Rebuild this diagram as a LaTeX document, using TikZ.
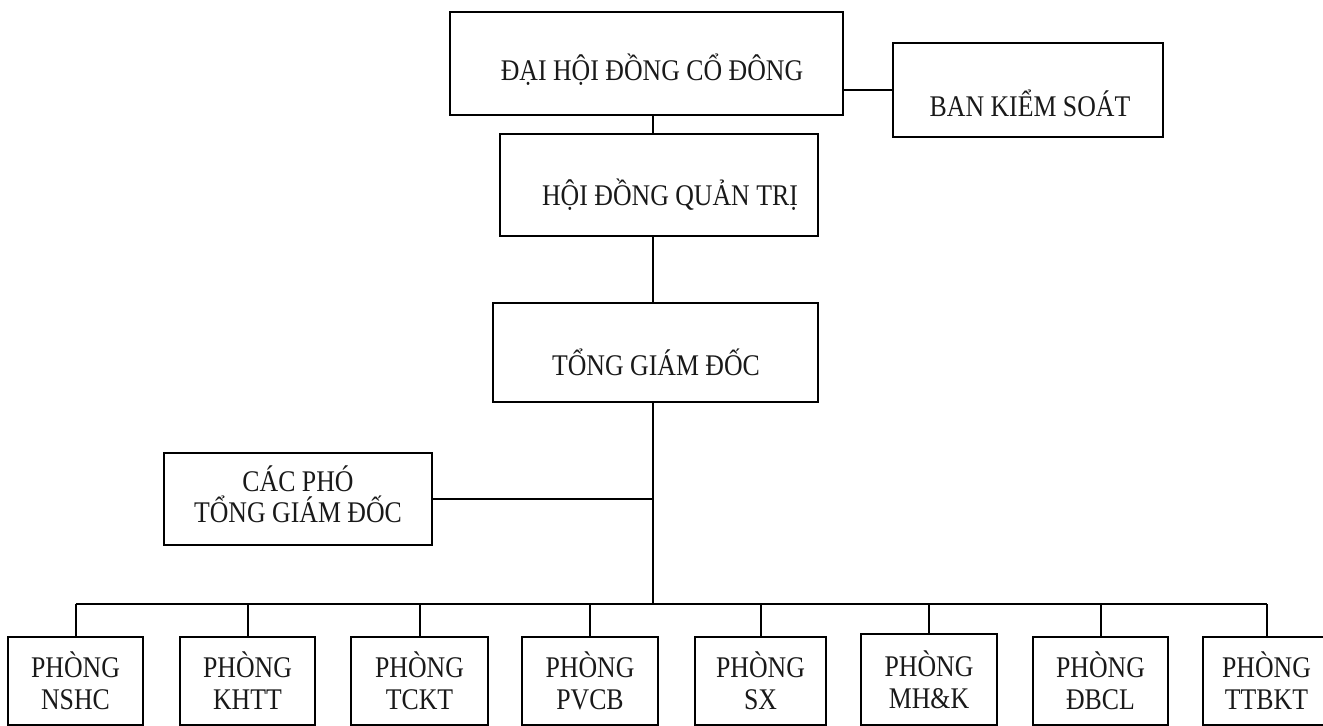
\documentclass[tikz,border=0pt]{standalone}
\usepackage{fontspec}
\setmainfont{Liberation Serif}[FakeStretch=0.86]
\begin{document}
\begin{tikzpicture}[x=0.5pt,y=-0.5pt,line width=1pt,
  box/.style={draw=black,rectangle,inner sep=0pt},
  txt/.style={font=\fontsize{15pt}{16pt}\selectfont,inner sep=0pt,align=center,text=black!90},
  dept/.style={box,txt,minimum width=#1,minimum height=44pt},
  conn/.style={draw=black,line width=1pt}]
\useasboundingbox (0,0) rectangle (1323,725);
% helper coordinates
\coordinate (sp) at (653,0);
\coordinate (bus) at (0,604);
\coordinate (c1) at (0,90);
% top boxes
\node[box,minimum width=196.5pt,minimum height=51.5pt] (dh) at (646.5,63.5) {};
\node[txt] (dht) at (652,70) {ĐẠI HỘI ĐỒNG CỔ ĐÔNG};
\node[box,minimum width=135pt,minimum height=47pt] (bks) at (1028,90) {};
\node[txt] (bkt) at (1030,103) {BAN KIỂM SOÁT};
\node[box,minimum width=159pt,minimum height=51pt] (hd) at (659,185) {};
\node[txt] (hdt) at (670,195) {HỘI ĐỒNG QUẢN TRỊ};
\node[box,minimum width=162.5pt,minimum height=49.5pt] (tgd) at (655.5,352.5) {};
\node[txt] (tgt) at (656,362) {TỔNG GIÁM ĐỐC};
\node[box,minimum width=134pt,minimum height=46pt] (cp) at (298,499) {};
\node[txt,font=\fontsize{15pt}{15.5pt}\selectfont] (cpt) at (298,494) {CÁC PHÓ\\TỔNG GIÁM ĐỐC};
% departments
\node[dept=67.5pt] (p1) at (75.5,681) {PHÒNG\\NSHC};
\node[dept=67.5pt] (p2) at (247.5,681) {PHÒNG\\KHTT};
\node[dept=68.5pt] (p3) at (419.5,681) {PHÒNG\\TCKT};
\node[dept=68pt] (p4) at (590,681) {PHÒNG\\PVCB};
\node[dept=65.5pt] (p5) at (760.5,681) {PHÒNG\\SX};
\node[dept=68pt,minimum height=45.5pt] (p6) at (929,679.5) {PHÒNG\\MH\&K};
\node[dept=67.5pt] (p7) at (1100.5,681) {PHÒNG\\ĐBCL};
\node[dept=63.5pt] (p8) at (1266.5,681) {PHÒNG\\TTBKT};
% connectors
\draw[conn] (dh.east |- c1) -- (bks.west |- c1);
\draw[conn] (dh.south -| sp) -- (hd.north -| sp);
\draw[conn] (hd.south -| sp) -- (tgd.north -| sp);
\draw[conn] (tgd.south -| sp) -- (bus -| sp);
\draw[conn] (cp.east) -- (cp.east -| sp);
\draw[conn] (p1.north |- bus) -- (p8.north |- bus);
\foreach \p in {p1,p2,p3,p4,p5,p6,p7,p8}{
  \draw[conn] (\p.north) -- (\p.north |- bus);
}
\end{tikzpicture}
\end{document}
